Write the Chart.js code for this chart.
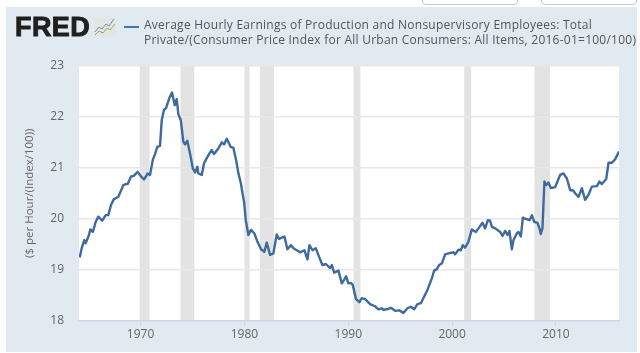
<!DOCTYPE html>
<html><head><meta charset="utf-8">
<script src="https://cdn.jsdelivr.net/npm/chart.js@4"></script>
<style>
html,body{margin:0;padding:0;background:#fff;width:640px;height:353px;overflow:hidden}
#wrap{position:relative;width:640px;height:353px;overflow:hidden;filter:blur(.35px)}
#panel{position:absolute;left:6px;top:7px;width:631px;height:345px;background:#e1e9f1}
.btn{position:absolute;top:-10px;width:94px;height:13px;border:1px solid #c9c9c9;border-radius:4px;background:#fff}
canvas{position:absolute;left:0;top:0}
#logo{position:absolute;left:15px;top:12px;font:bold 27px/30px "Liberation Sans",sans-serif;color:#1f1f1f;-webkit-text-stroke:.9px #1f1f1f;letter-spacing:.4px}
#icon{position:absolute;left:94px;top:18px}
#key{position:absolute;left:124px;top:26px;width:15px;height:2px;background:#4572a7}
#title{position:absolute;left:144px;top:18px;font:12px/14.7px "Open Sans",sans-serif;color:#555;white-space:nowrap;letter-spacing:.245px}
</style></head><body>
<div id="wrap">
<div class="btn" style="left:422px"></div><div class="btn" style="left:541px"></div>
<div id="panel"></div>
<canvas id="c" width="640" height="353"></canvas>
<div id="logo">FRED</div>
<svg id="icon" width="22" height="19" viewBox="0 0 22 19"><rect width="22" height="19" fill="#e4e6e4"/><polyline points="1,14 5,9 8,11 12,6 15,8 20,1" fill="none" stroke="#6f8fb0" stroke-width="1"/><polyline points="1,17 5,13 9,15 13,10 16,12 21,6" fill="none" stroke="#8fae6a" stroke-width="1"/></svg>
<div id="key"></div>
<div id="title">Average Hourly Earnings of Production and Nonsupervisory Employees: Total<br>Private/(Consumer Price Index for All Urban Consumers: All Items, 2016-01=100/100)</div>
</div>
<script>
const years=[1964.14,1964.33,1964.58,1964.72,1965.03,1965.16,1965.41,1965.68,1965.93,1966.31,1966.64,1966.89,1967.15,1967.41,1967.86,1968.34,1968.57,1968.76,1969.08,1969.34,1969.72,
1970.04,1970.33,1970.69,1970.91,1971.17,1971.39,1971.61,1971.87,1972.04,1972.26,1972.45,1972.77,1973.03,1973.29,1973.48,1973.64,1973.87,1974.12,1974.28,1974.5,1974.76,1975.03,1975.25,1975.47,1975.56,1975.89,1976.11,1976.37,1976.62,1976.85,1977.07,1977.49,1977.82,1978.04,1978.3,1978.68,1978.94,1979.2,1979.42,1979.65,1979.84,1979.97,
1980.13,1980.38,1980.64,1980.96,1981.25,1981.6,1981.92,1982.15,1982.47,1982.79,1983.11,1983.34,1983.6,1983.85,1984.14,1984.49,1984.72,1985.04,1985.36,1985.78,1986.07,1986.26,1986.55,1986.87,1987.19,1987.51,1987.84,1988.25,1988.42,1988.64,1989.05,1989.38,1989.6,1989.79,
1990.01,1990.24,1990.43,1990.75,1991.07,1991.3,1991.62,1992.1,1992.58,1992.9,1993.23,1993.38,1993.71,1994.1,1994.51,1994.9,1995.31,1995.7,1996.02,1996.34,1996.66,1996.99,1997.31,1997.62,1997.88,1998.05,1998.27,1998.53,1998.75,1999.01,1999.33,1999.65,
2000.13,2000.29,2000.61,2000.84,2001.03,2001.25,2001.57,2001.9,2002.28,2002.54,2002.92,2003.18,2003.44,2003.66,2003.83,2004.15,2004.63,2004.85,2005.11,2005.33,2005.52,2005.75,2005.91,2006.23,2006.39,2006.62,2006.81,2007.03,2007.45,2007.68,2007.9,2008.21,2008.41,2008.54,2008.7,2008.89,2009.05,2009.28,2009.51,2009.92,
2010.4,2010.72,2011.05,2011.37,2011.63,2011.85,2012.17,2012.49,2012.81,2013.13,2013.46,2013.94,2014.19,2014.42,2014.84,2015.06,2015.39,2015.71,2016.07];
const earnings=[19.24,19.42,19.58,19.52,19.68,19.79,19.74,19.94,20.04,19.96,20.07,20.07,20.27,20.38,20.43,20.66,20.68,20.68,20.83,20.84,20.92,
20.83,20.77,20.89,20.86,21.15,21.27,21.41,21.43,21.94,22.14,22.17,22.37,22.48,22.23,22.35,22.05,21.94,21.51,21.46,21.53,21.28,20.99,20.91,21.02,20.89,20.86,21.09,21.19,21.28,21.35,21.27,21.38,21.5,21.46,21.57,21.41,21.39,21.15,20.89,20.7,20.47,20.33,
19.97,19.68,19.78,19.71,19.55,19.4,19.35,19.53,19.29,19.32,19.69,19.6,19.63,19.65,19.4,19.48,19.42,19.38,19.34,19.38,19.2,19.48,19.38,19.42,19.25,19.09,19.11,19.03,19.09,18.94,18.98,18.73,18.8,18.87,
18.73,18.74,18.7,18.42,18.36,18.44,18.42,18.32,18.28,18.22,18.24,18.21,18.22,18.25,18.19,18.2,18.15,18.24,18.27,18.22,18.32,18.34,18.47,18.6,18.74,18.83,18.98,19.01,19.09,19.12,19.3,19.32,
19.34,19.3,19.39,19.38,19.48,19.43,19.55,19.79,19.74,19.81,19.92,19.81,19.97,19.96,19.84,19.81,19.74,19.66,19.76,19.68,19.76,19.4,19.58,19.71,19.74,19.65,20.02,20.0,19.97,20.07,19.94,19.92,19.81,19.7,19.81,20.73,20.66,20.71,20.6,20.62,
20.86,20.89,20.79,20.56,20.56,20.5,20.43,20.6,20.37,20.47,20.63,20.64,20.73,20.68,20.78,21.1,21.1,21.17,21.32];
const recessionStarts=[1969.92,1973.84,1980.0,1981.5,1990.5,2001.17,2007.92];
const recessionEnds=[1970.87,1975.17,1980.5,1982.84,1991.17,2001.84,2009.42];
const xTicks=[1970,1980,1990,2000,2010];
const yTicks=[18,19,20,21,22,23];
const yLabel="($ per Hour/(Index/100))";

const bands={id:'bands',beforeDraw(ch){
  const {ctx,chartArea:a,scales:{x}}=ch;
  ctx.save();ctx.fillStyle='#fff';ctx.fillRect(a.left,a.top,a.right-a.left,a.bottom-a.top);
  ctx.fillStyle='#e3e3e3';
  recessionStarts.forEach((s,i)=>{const l=x.getPixelForValue(s),r=x.getPixelForValue(recessionEnds[i]);ctx.fillRect(l,a.top,r-l,a.bottom-a.top);});
  ctx.restore();
}};
const font={family:'"Open Sans",sans-serif',size:12};
new Chart(document.getElementById('c'),{
  type:'line',
  data:{datasets:[{data:years.map((y,i)=>({x:y,y:earnings[i]})),borderColor:'#3f6a9e',borderWidth:2.4,pointRadius:0,tension:0,fill:false,borderJoinStyle:'round'}]},
  plugins:[bands],
  options:{
    responsive:false,animation:false,parsing:false,
    layout:{padding:{left:0,right:21,top:66,bottom:0}},
    plugins:{legend:{display:false},tooltip:{enabled:false}},
    scales:{
      x:{type:'linear',min:1964.07,max:2016.07,
        afterBuildTicks(s){s.ticks=xTicks.map(v=>({value:v}));},
        afterFit(s){s.height=32.5;},
        border:{color:'#ccd6eb',width:1.5},
        grid:{drawOnChartArea:false,drawTicks:true,tickLength:5,color:'#ccd6eb',tickColor:'#ccd6eb'},
        ticks:{color:'#666',font,maxRotation:0,padding:2,callback:v=>String(v)}},
      y:{min:18,max:23,
        afterBuildTicks(s){s.ticks=yTicks.map(v=>({value:v}));},
        afterFit(s){s.width=79;},
        border:{display:false},
        grid:{color:'#e8e8e8',lineWidth:1.5,drawTicks:false},
        title:{display:true,text:yLabel,color:'#666',font:{family:font.family,size:11.5},padding:{top:23,bottom:0}},
        ticks:{color:'#666',font,padding:15,callback:v=>String(v)}}
    }
  }
});
</script>
</body></html>
